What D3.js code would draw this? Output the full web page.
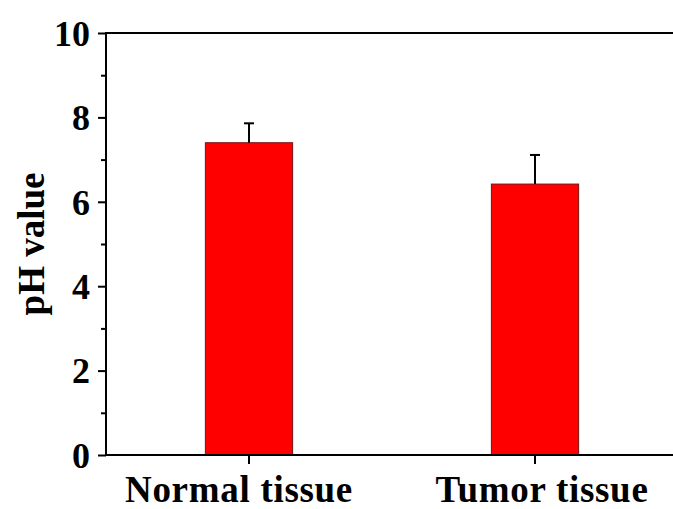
<!DOCTYPE html>
<html>
<head>
<meta charset="utf-8">
<script src="https://cdn.jsdelivr.net/npm/d3@7"></script>
<style>
  html, body { margin: 0; padding: 0; background: #fff; }
  svg { display: block; }
  text { font-family: "Liberation Serif", "Times New Roman", serif; font-weight: bold; fill: #000; }
</style>
</head>
<body>
<svg id="chart" width="673" height="509"></svg>
<script>
const categories = ["Normal tissue", "Tumor tissue"];
const phValues = [7.40, 6.42];
const phErrors = [0.46, 0.69];
const yTicks = [0, 2, 4, 6, 8, 10];
const yMinorTicks = [1, 3, 5, 7, 9];
const yLabel = "pH value";

const W = 673, H = 509;
const mLeft = 106, mTop = 33, mBottom = 455, rightRange = 678;

const svg = d3.select("#chart");

const x = d3.scaleBand()
  .domain(categories)
  .range([mLeft, rightRange])
  .paddingInner(0.695)
  .paddingOuter(0.3475);

const y = d3.scaleLinear().domain([0, 10]).range([mBottom, mTop]);

// bars
svg.append("g").selectAll("rect")
  .data(categories)
  .join("rect")
  .attr("x", d => x(d))
  .attr("y", (d, i) => y(phValues[i]))
  .attr("width", x.bandwidth())
  .attr("height", (d, i) => y(0) - y(phValues[i]))
  .attr("fill", "#ff0000")
  .attr("stroke", "#7a1010")
  .attr("stroke-width", 1);

// error bars (upper only)
const eb = svg.append("g").attr("stroke", "#000").attr("stroke-width", 2);
categories.forEach((c, i) => {
  const cx = x(c) + x.bandwidth() / 2;
  eb.append("line")
    .attr("x1", cx).attr("x2", cx)
    .attr("y1", y(phValues[i])).attr("y2", y(phValues[i] + phErrors[i]));
  eb.append("line")
    .attr("x1", cx - 5).attr("x2", cx + 5)
    .attr("y1", y(phValues[i] + phErrors[i])).attr("y2", y(phValues[i] + phErrors[i]));
});

// y axis
const yAxis = d3.axisLeft(y).tickValues(yTicks).tickSize(8).tickPadding(8).tickFormat(d3.format("d"));
const gy = svg.append("g").attr("transform", `translate(${mLeft},0)`).call(yAxis);
gy.select(".domain").remove();
gy.selectAll(".tick line").attr("stroke", "#000").attr("stroke-width", 2);
gy.selectAll(".tick text").attr("font-size", 36).attr("font-family", "Liberation Serif").attr("font-weight", "bold").attr("fill", "#000").attr("dy", "0.34em");

const yMinor = d3.axisLeft(y).tickValues(yMinorTicks).tickSize(5).tickFormat("");
const gym = svg.append("g").attr("transform", `translate(${mLeft},0)`).call(yMinor);
gym.select(".domain").remove();
gym.selectAll(".tick line").attr("stroke", "#000").attr("stroke-width", 2);

svg.append("line").attr("x1", mLeft).attr("x2", mLeft).attr("y1", mTop - 1).attr("y2", mBottom + 1)
  .attr("stroke", "#000").attr("stroke-width", 2);

// x axis
const xAxis = d3.axisBottom(x).tickSize(9).tickPadding(12);
const gx = svg.append("g").attr("transform", `translate(0,${mBottom})`).call(xAxis);
gx.select(".domain").remove();
gx.selectAll(".tick line").attr("stroke", "#000").attr("stroke-width", 2);
gx.selectAll(".tick text")
  .attr("font-size", 37).attr("font-family", "Liberation Serif").attr("font-weight", "bold").attr("fill", "#000")
  .attr("dy", "0.71em")
  .attr("letter-spacing", "0.7px")
  .attr("dx", (d, i) => i === 0 ? -10 : 7);

svg.append("line").attr("x1", mLeft - 1).attr("x2", W).attr("y1", mBottom).attr("y2", mBottom)
  .attr("stroke", "#000").attr("stroke-width", 2);
// top frame line
svg.append("line").attr("x1", mLeft - 1).attr("x2", W).attr("y1", mTop).attr("y2", mTop)
  .attr("stroke", "#000").attr("stroke-width", 2);

// y label
svg.append("text")
  .attr("transform", `translate(44,${(mTop + mBottom) / 2}) rotate(-90)`)
  .attr("text-anchor", "middle")
  .attr("font-size", 37)
  .text(yLabel);
</script>
</body>
</html>
